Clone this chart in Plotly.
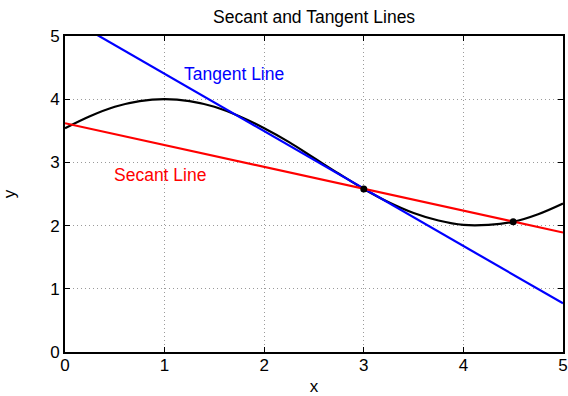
import plotly.graph_objects as go

# Curve samples
curve_x = [0, 0.25, 0.5, 0.75, 1.0, 1.25, 1.5, 1.75, 2.0, 2.25, 2.5,
           2.75, 3.0, 3.25, 3.5, 3.75, 4.0, 4.25, 4.5, 4.75, 5.0]
curve_y = [3.54, 3.73, 3.88, 3.97, 4.00, 3.97, 3.88, 3.73, 3.54, 3.32, 3.07,
           2.82, 2.58, 2.37, 2.20, 2.08, 2.01, 2.01, 2.06, 2.18, 2.35]

tangent_x = [0, 5]
tangent_y = [5.31, 0.77]

secant_x = [0, 5]
secant_y = [3.62, 1.89]

points_x = [3.0, 4.5]
points_y = [2.58, 2.06]

labels = ["Tangent Line", "Secant Line"]
label_x = [1.2, 0.5]
label_y = [4.4, 2.8]
label_colors = ["#0000ff", "#ff0000"]

x_ticks = [0, 1, 2, 3, 4, 5]
y_ticks = [0, 1, 2, 3, 4, 5]

FONT = "Liberation Sans, Arial, Helvetica, sans-serif"

fig = go.Figure()
fig.add_trace(go.Scatter(x=curve_x, y=curve_y, mode="lines",
                         line=dict(color="black", width=2.2, shape="spline"),
                         showlegend=False, hoverinfo="skip"))
fig.add_trace(go.Scatter(x=tangent_x, y=tangent_y, mode="lines",
                         line=dict(color="#0000ff", width=2.2),
                         showlegend=False))
fig.add_trace(go.Scatter(x=secant_x, y=secant_y, mode="lines",
                         line=dict(color="#ff0000", width=2.2),
                         showlegend=False))
fig.add_trace(go.Scatter(x=points_x, y=points_y, mode="markers",
                         marker=dict(color="black", size=7),
                         showlegend=False))

for t, xx, yy, c in zip(labels, label_x, label_y, label_colors):
    fig.add_annotation(x=xx, y=yy, text=t, showarrow=False,
                       xanchor="left", yanchor="middle", xshift=-3,
                       font=dict(color=c, size=17.5, family=FONT))

axis_common = dict(
    showline=True, linecolor="black", linewidth=2, mirror="ticks",
    ticks="inside", ticklen=5, tickcolor="black", tickwidth=1,
    showgrid=True, gridcolor="#9a9a9a", griddash="1px,3px", gridwidth=1,
    zeroline=False, tickfont=dict(size=17, color="black", family=FONT),
    automargin=False,
)

fig.update_xaxes(range=[0, 5], tickvals=x_ticks, ticktext=[str(v) for v in x_ticks],
                 ticklabelstandoff=-3,
                 title=dict(text="x", font=dict(size=17, family=FONT, color="black"), standoff=20),
                 **axis_common)
fig.update_yaxes(range=[0, 5], tickvals=y_ticks, ticktext=[str(v) for v in y_ticks],
                 title=dict(text="y", font=dict(size=17, family=FONT, color="black"), standoff=30),
                 **axis_common)

fig.update_layout(
    width=568, height=396,
    margin=dict(l=65, r=5, t=36, b=44, pad=0),
    paper_bgcolor="white", plot_bgcolor="white",
    title=dict(text="Secant and Tangent Lines", x=0.553, xanchor="center",
               y=0.957, yanchor="middle",
               font=dict(size=17.5, color="black", family=FONT)),
    font=dict(family=FONT, color="black"),
)

fig.write_html("out.html")
